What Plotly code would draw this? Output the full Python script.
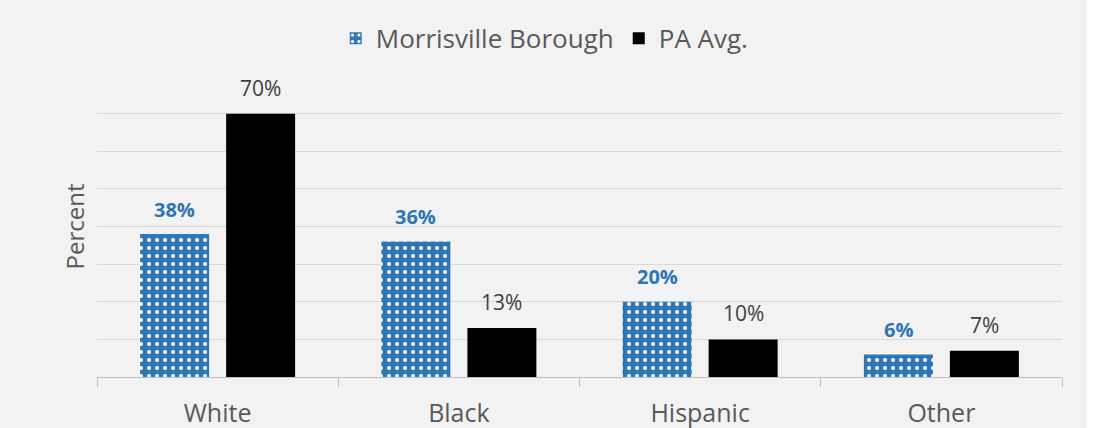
import plotly.graph_objects as go

categories = ["White", "Black", "Hispanic", "Other"]
morrisville = [38, 36, 20, 6]
pa_avg = [70, 13, 10, 7]
series_names = ["Morrisville Borough", "PA Avg."]

BLUE = "#2E75B6"
FONT = "Open Sans"

fig = go.Figure()
fig.add_trace(go.Bar(
    x=categories, y=morrisville, name=series_names[0],
    marker=dict(color=BLUE, line=dict(width=0),
                pattern=dict(shape=".", fgcolor="white", bgcolor=BLUE,
                             size=8, solidity=0.2, fillmode="replace")),
))
fig.add_trace(go.Bar(
    x=categories, y=pa_avg, name=series_names[1],
    marker=dict(color="#000000", line=dict(width=0)),
))

annotations = []
for c, v in zip(categories, morrisville):
    annotations.append(dict(x=c, y=v, xref="x", yref="y", text=f"<b>{v}%</b>",
                            showarrow=False, xshift=-43, yshift=25, yanchor="middle",
                            font=dict(family=FONT, size=20, color=BLUE)))
for c, v in zip(categories, pa_avg):
    annotations.append(dict(x=c, y=v, xref="x", yref="y", text=f"{v}%",
                            showarrow=False, xshift=43, yshift=26, yanchor="middle",
                            font=dict(family=FONT, size=21, color="#404040")))

fig.update_layout(
    width=1087, height=428,
    margin=dict(l=97, r=25, t=76, b=51, autoexpand=False),
    paper_bgcolor="#F2F2F2", plot_bgcolor="#F2F2F2",
    barmode="group", bargap=0.287, bargroupgap=0.198,
    font=dict(family=FONT, color="#595959"),
    showlegend=True,
    legend=dict(orientation="h", x=0.464, xanchor="center", y=1.125, yanchor="middle",
                font=dict(family=FONT, size=26, color="#595959"),
                bgcolor="rgba(0,0,0,0)", itemwidth=30, traceorder="normal"),
    annotations=annotations,
)
fig.update_xaxes(
    showgrid=False, showline=True, linecolor="#BFBFBF", linewidth=1,
    ticks="outside", tickson="boundaries", ticklen=9, tickcolor="#BFBFBF",
    tickfont=dict(family=FONT, size=25, color="#595959"),
    ticklabelstandoff=14, automargin=False,
)
fig.update_yaxes(
    range=[0, 80], dtick=10, showticklabels=False, showgrid=True,
    gridcolor="#D9D9D9", gridwidth=1, zeroline=False, automargin=False,
    title=dict(text="Percent", font=dict(family=FONT, size=24, color="#595959"), standoff=4),
)

fig.write_html("out.html", config={"displayModeBar": False},
               post_script="document.body.style.margin='0';")
